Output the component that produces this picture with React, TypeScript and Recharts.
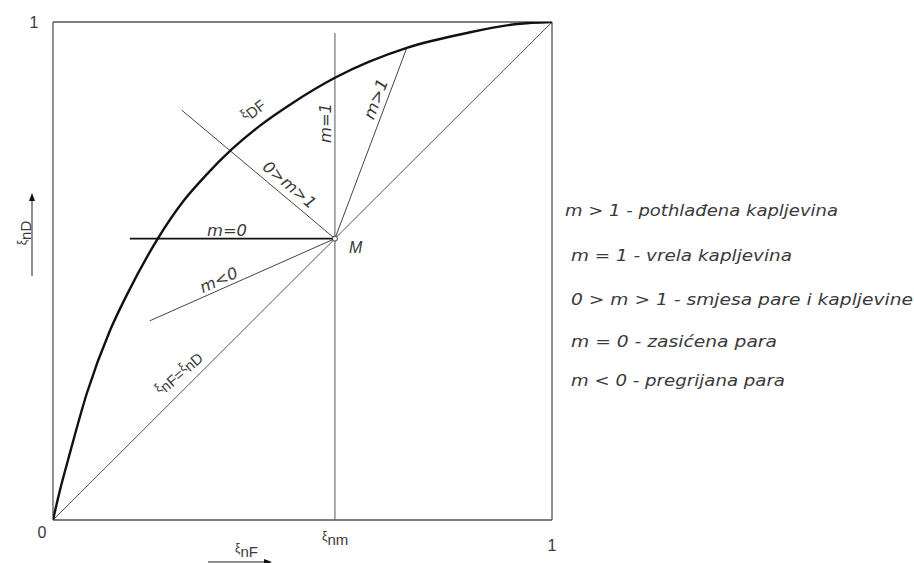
import { LineChart, Line, XAxis, YAxis, ReferenceLine, ReferenceDot } from 'recharts';

// equilibrium curve xi_DF
const curveX = [0, 0.014, 0.03, 0.068, 0.114, 0.148, 0.21, 0.261, 0.309, 0.359, 0.415, 0.481, 0.565, 0.709, 0.83, 0.93, 1];
const curveY = [0, 0.06, 0.12, 0.255, 0.38, 0.452, 0.565, 0.64, 0.695, 0.745, 0.792, 0.838, 0.888, 0.948, 0.978, 0.996, 1];

// feed point M on the diagonal
const pointM = { x: 0.565, y: 0.565 };

// q-lines from M
const lineMZero = [{ x: 0.154, y: 0.565 }, pointM];
const lineMOne = [{ x: 0.565, y: 0 }, { x: 0.565, y: 0.978 }];
const lineMGtOne = [pointM, { x: 0.709, y: 0.948 }];
const lineMMid = [{ x: 0.258, y: 0.823 }, pointM];
const lineMNeg = [{ x: 0.194, y: 0.4 }, pointM];
const diagonal = [{ x: 0, y: 0 }, { x: 1, y: 1 }];

const legendLines = [
	'm > 1 - pothlađena kapljevina',
	'm = 1 - vrela kapljevina',
	'0 > m > 1 - smjesa pare i kapljevine',
	'm = 0 - zasićena para',
	'm < 0 - pregrijana para',
];

const curveData = curveX.map((x, i) => ({ x, y: curveY[i] }));

const W = 914;
const H = 563;
const ink = '#3a3a3a';
const font = '"Liberation Sans", Arial, sans-serif';
const wide = '"DejaVu Sans", Verdana, sans-serif';

export default function App() {
	const legendY = [216, 261, 305, 347, 386];
	const legendX = [565, 571, 571, 571, 571];
	const legendW = [273, 221, 342, 206, 214];

	return (
		<div style={{ position: 'absolute', left: 0, top: 0, width: W, height: H, background: '#fff' }}>
			<LineChart width={W} height={H} margin={{ top: 22, right: 362, bottom: 43, left: 53 }}>
				<XAxis type="number" dataKey="x" domain={[0, 1]} hide allowDataOverflow />
				<YAxis type="number" dataKey="y" domain={[0, 1]} hide allowDataOverflow />
				<ReferenceLine x={0} stroke="#555" strokeWidth={1.3} />
				<ReferenceLine x={1} stroke="#555" strokeWidth={1.3} />
				<ReferenceLine y={0} stroke="#555" strokeWidth={1.3} />
				<ReferenceLine y={1} stroke="#555" strokeWidth={1.3} />
				<Line data={diagonal} dataKey="y" type="linear" stroke="#555" strokeWidth={1} dot={false} isAnimationActive={false} />
				<Line data={lineMOne} dataKey="y" type="linear" stroke="#555" strokeWidth={1} dot={false} isAnimationActive={false} />
				<Line data={lineMGtOne} dataKey="y" type="linear" stroke="#444" strokeWidth={1} dot={false} isAnimationActive={false} />
				<Line data={lineMMid} dataKey="y" type="linear" stroke="#444" strokeWidth={1} dot={false} isAnimationActive={false} />
				<Line data={lineMNeg} dataKey="y" type="linear" stroke="#444" strokeWidth={1} dot={false} isAnimationActive={false} />
				<Line data={lineMZero} dataKey="y" type="linear" stroke="#111" strokeWidth={1.6} dot={false} isAnimationActive={false} />
				<Line data={curveData} dataKey="y" type="monotone" stroke="#111" strokeWidth={2.4} dot={false} isAnimationActive={false} />
				<ReferenceDot x={pointM.x} y={pointM.y} r={2.5} fill="#fff" stroke="#333" strokeWidth={1} />
			</LineChart>
			<svg width={W} height={H} style={{ position: 'absolute', left: 0, top: 0, pointerEvents: 'none' }} fontFamily={font} fill={ink}>
				<text x={34} y={28} fontSize={16} textAnchor="middle">1</text>
				<text x={42} y={538} fontSize={16} textAnchor="middle">0</text>
				<text x={552} y={551} fontSize={16} textAnchor="middle">1</text>
				<text x={322} y={545} fontSize={15}><tspan fontSize={12} dy={-5}>ξ</tspan><tspan dy={5}>nm</tspan></text>
				<text x={235} y={557} fontSize={15}><tspan fontSize={12} dy={-5}>ξ</tspan><tspan dy={5}>nF</tspan></text>
				<line x1={208} y1={562} x2={266} y2={562} stroke="#222" strokeWidth={1} />
				<polygon points="272,562 264,559 264,565" fill="#111" />
				<g transform="translate(31,233) rotate(-90)">
					<text x={0} y={0} fontSize={15} textAnchor="middle"><tspan fontSize={12} dy={-5}>ξ</tspan><tspan dy={5}>nD</tspan></text>
				</g>
				<line x1={32} y1={276} x2={32} y2={199} stroke="#222" strokeWidth={1} />
				<polygon points="32,193 29,201 35,201" fill="#111" />
				<g transform="translate(257,115) rotate(-38)">
					<text x={0} y={0} fontSize={15} textAnchor="middle"><tspan fontSize={12} dy={-5}>ξ</tspan><tspan dy={5}>DF</tspan></text>
				</g>
				<g fontStyle="italic" fontSize={16} fontFamily={wide}>
					<text transform="translate(331,123) rotate(-90)" textAnchor="middle" textLength={40} lengthAdjust="spacingAndGlyphs">m=1</text>
					<text transform="translate(381,101) rotate(-69)" textAnchor="middle" textLength={42} lengthAdjust="spacingAndGlyphs">m&gt;1</text>
					<text transform="translate(286,189) rotate(40)" textAnchor="middle" textLength={64} lengthAdjust="spacingAndGlyphs">0&gt;m&gt;1</text>
					<text x={227} y={236} textAnchor="middle" textLength={40} lengthAdjust="spacingAndGlyphs">m=0</text>
					<text transform="translate(221,285) rotate(-24)" textAnchor="middle" textLength={40} lengthAdjust="spacingAndGlyphs">m&lt;0</text>
					<text x={349} y={253} fontFamily={font}>M</text>
				</g>
				<text transform="translate(183,378) rotate(-41)" textAnchor="middle" fontSize={15}>
					<tspan fontSize={12} dy={-5}>ξ</tspan><tspan dy={5}>nF</tspan><tspan>=</tspan><tspan fontSize={12} dy={-5}>ξ</tspan><tspan dy={5}>nD</tspan>
				</text>
				<g fontStyle="italic" fontSize={15} fontFamily={wide}>
					{legendLines.map((t, i) => (
						<text key={t} x={legendX[i]} y={legendY[i]} textLength={legendW[i]} lengthAdjust="spacingAndGlyphs">{t}</text>
					))}
				</g>
			</svg>
		</div>
	);
}
